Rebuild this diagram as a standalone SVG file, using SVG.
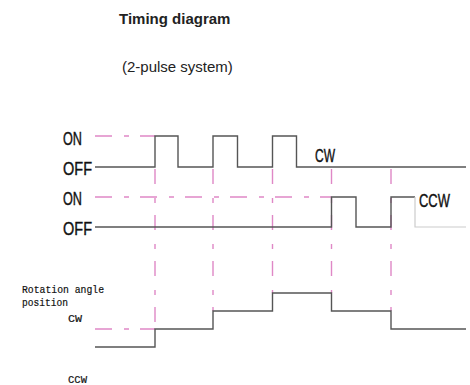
<svg xmlns="http://www.w3.org/2000/svg" width="470" height="385" viewBox="0 0 470 385">
<style>
.title{font-family:"Liberation Sans",Arial,sans-serif;font-size:15px;font-weight:bold;fill:#222}
.sub{font-family:"Liberation Sans",Arial,sans-serif;font-size:15px;fill:#222}
.lbl{font-family:"Liberation Sans",Arial,sans-serif;font-size:18px;fill:#111;stroke:#111;stroke-width:0.4}
.small{font-family:"Liberation Mono","DejaVu Sans Mono",monospace;font-size:11px;fill:#111;stroke:#111;stroke-width:0.2}
.sig{fill:none;stroke:#555;stroke-width:1.4}
.faint{fill:none;stroke:#ccc;stroke-width:1.2}
.dd{fill:none;stroke:#df88c6;stroke-width:1.4;stroke-dasharray:17 12 5 11}
.vd{fill:none;stroke:#df88c6;stroke-width:1.4;stroke-dasharray:15 14 5 12}
</style>
<rect width="470" height="385" fill="#fff"/>
<g id="title">
<text class="title" x="119" y="24">Timing diagram</text>
<text class="sub" x="122" y="72">(2-pulse system)</text>
</g>
<g id="labels">
<text class="lbl" x="63" y="145" textLength="19" lengthAdjust="spacingAndGlyphs">ON</text>
<text class="lbl" x="63" y="175" textLength="29" lengthAdjust="spacingAndGlyphs">OFF</text>
<text class="lbl" x="63" y="205" textLength="19" lengthAdjust="spacingAndGlyphs">ON</text>
<text class="lbl" x="63" y="235" textLength="29" lengthAdjust="spacingAndGlyphs">OFF</text>
<text class="lbl" x="315" y="162" font-size="17" textLength="20" lengthAdjust="spacingAndGlyphs">CW</text>
<text class="lbl" x="419" y="207" font-size="17" textLength="31" lengthAdjust="spacingAndGlyphs">CCW</text>
<text class="small" x="22" y="293" textLength="82" lengthAdjust="spacingAndGlyphs">Rotation angle</text>
<text class="small" x="22" y="306" textLength="46" lengthAdjust="spacingAndGlyphs">position</text>
<text class="small" x="68" y="322" textLength="14" lengthAdjust="spacingAndGlyphs">CW</text>
<text class="small" x="68" y="383" textLength="19" lengthAdjust="spacingAndGlyphs">CCW</text>
</g>
<g id="connectors">
<path class="dd" d="M95,136 H155"/>
<path class="dd" d="M95,197 H331.5"/>
<path class="dd" d="M95,329 H155"/>
<path class="vd" d="M155,169 V329"/>
<path class="vd" d="M213,169 V311"/>
<path class="vd" d="M272.5,169 V293"/>
<path class="vd" d="M331.5,169 V293"/>
<path class="vd" d="M391,169 V311"/>
</g>
<g id="cw-signal">
<path class="sig" d="M95,167 H155 V136 H178 V167 H213 V136 H237.5 V167 H272.5 V136 H296.5 V167 H466"/>
</g>
<g id="ccw-signal">
<path class="sig" d="M95,227 H331.5 V197 H356 V227 H391 V197 H415"/>
<path class="faint" d="M415,197 V227 H466"/>
</g>
<g id="rotation">
<path class="sig" d="M95,347 H155 V329 H213 V311 H272.5 V293 H331.5 V311 H391 V329 H466"/>
</g>
</svg>
